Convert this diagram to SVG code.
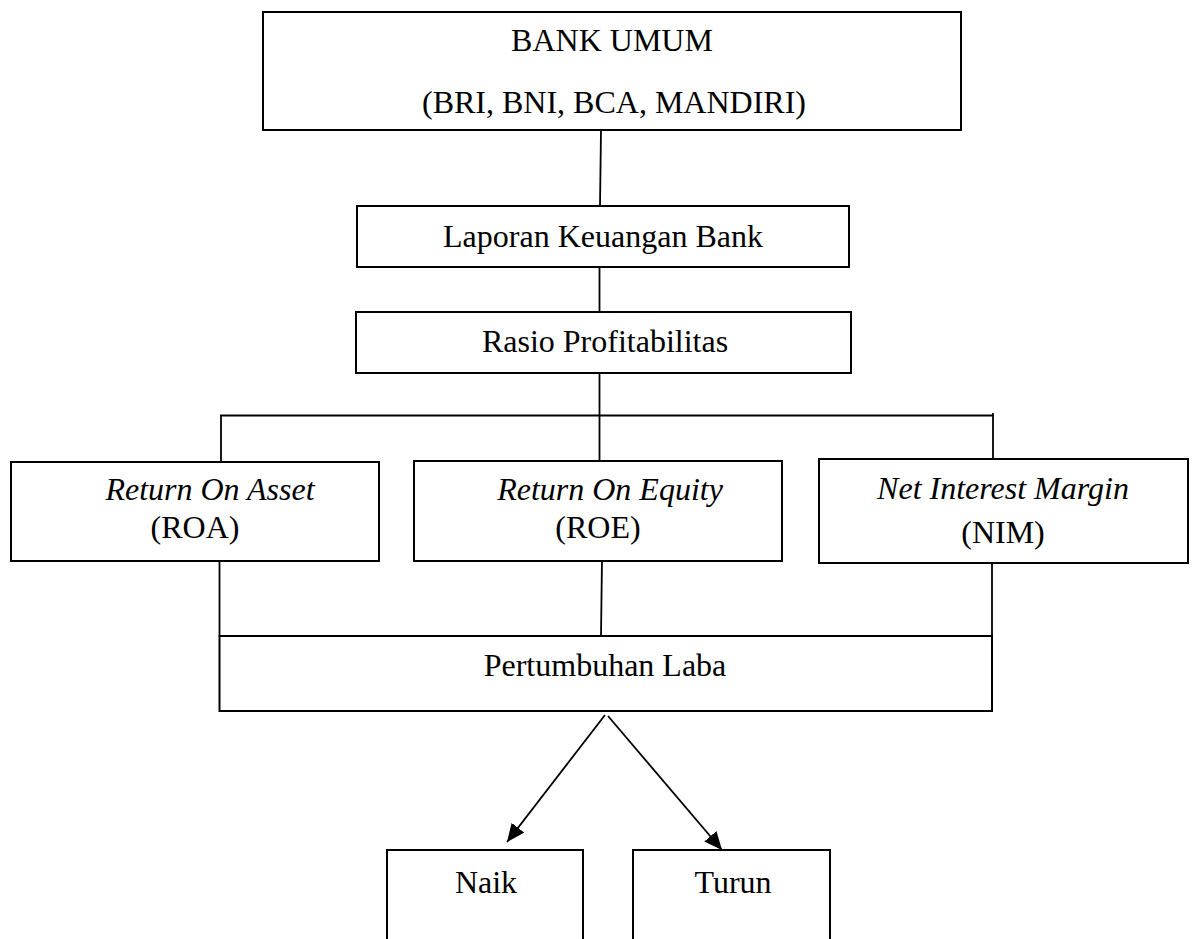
<svg xmlns="http://www.w3.org/2000/svg" width="1194" height="939" viewBox="0 0 1194 939">
<style>
.box{fill:#fff;stroke:#000;stroke-width:2}
.ln{fill:none;stroke:#000;stroke-width:1.8}
.t{font-family:"Liberation Serif","Times New Roman",serif;font-size:32px;fill:#000;text-anchor:middle}
.i{font-style:italic}
</style>
<defs>
<marker id="ah" markerUnits="userSpaceOnUse" markerWidth="20" markerHeight="18" refX="18" refY="8" orient="auto">
<path d="M0,0 L18,8 L0,16 z" fill="#000"/>
</marker>
</defs>
<rect width="1194" height="939" fill="#fff"/>
<g id="connectors">
<line class="ln" x1="601" y1="130" x2="600" y2="206"/>
<line class="ln" x1="599.5" y1="267" x2="599.5" y2="312"/>
<line class="ln" x1="599.5" y1="373" x2="599.5" y2="461"/>
<line class="ln" x1="220" y1="415.5" x2="993" y2="415.5"/>
<line class="ln" x1="221" y1="415.5" x2="221" y2="462"/>
<line class="ln" x1="993" y1="413" x2="993" y2="459"/>
<line class="ln" x1="219.5" y1="556" x2="219.5" y2="636"/>
<line class="ln" x1="602" y1="559" x2="601" y2="636"/>
<line class="ln" x1="992" y1="564" x2="992" y2="636"/>
<line class="ln" x1="605" y1="715" x2="507" y2="842" marker-end="url(#ah)"/>
<line class="ln" x1="608" y1="716" x2="722" y2="850" marker-end="url(#ah)"/>
</g>
<g id="bank-umum">
<rect class="box" x="263" y="12" width="698" height="118"/>
<text class="t" x="612" y="51">BANK UMUM</text>
<text class="t" x="614" y="113">(BRI, BNI, BCA, MANDIRI)</text>
</g>
<g id="laporan">
<rect class="box" x="357" y="206" width="492" height="61"/>
<text class="t" x="603" y="247">Laporan Keuangan Bank</text>
</g>
<g id="rasio">
<rect class="box" x="356" y="312" width="495" height="61"/>
<text class="t" x="605" y="352">Rasio Profitabilitas</text>
</g>
<g id="roa">
<rect class="box" x="11" y="462" width="368" height="99"/>
<text class="t i" x="210" y="500">Return On Asset</text>
<text class="t" x="195" y="538">(ROA)</text>
</g>
<g id="roe">
<rect class="box" x="414" y="461" width="368" height="100"/>
<text class="t i" x="610" y="500">Return On Equity</text>
<text class="t" x="598" y="538">(ROE)</text>
</g>
<g id="nim">
<rect class="box" x="819" y="459" width="369" height="104"/>
<text class="t i" x="1003" y="499">Net Interest Margin</text>
<text class="t" x="1003" y="543">(NIM)</text>
</g>
<g id="pertumbuhan-laba">
<rect class="box" x="219.5" y="636" width="772.5" height="75"/>
<text class="t" x="605" y="676">Pertumbuhan Laba</text>
</g>
<g id="naik">
<path class="box" d="M387,945 V850 H583 V945"/>
<text class="t" x="486" y="893">Naik</text>
</g>
<g id="turun">
<path class="box" d="M633,945 V850 H830 V945"/>
<text class="t" x="733" y="893">Turun</text>
</g>
</svg>
